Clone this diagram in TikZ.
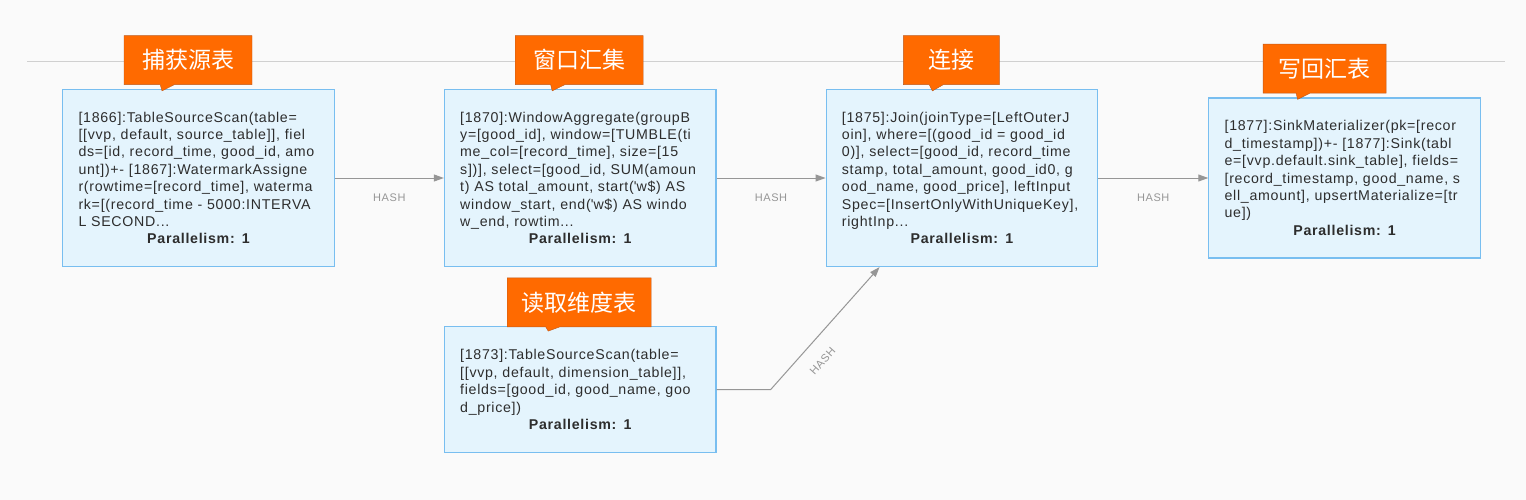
\documentclass[tikz,border=0pt]{standalone}
\usepackage{fontspec}
\setmainfont{Liberation Sans}[LetterSpace=5]
\newfontfamily\cjk{Noto Sans CJK SC}
\usetikzlibrary{arrows.meta, positioning, shapes.callouts}
\definecolor{pagebg}{RGB}{250,250,250}
\definecolor{boxfill}{RGB}{228,244,253}
\definecolor{boxline}{RGB}{120,190,240}
\definecolor{tabfill}{RGB}{255,106,0}
\definecolor{tabline}{RGB}{190,90,30}
\definecolor{flowgray}{RGB}{150,150,150}
\definecolor{rulegray}{RGB}{208,208,208}
\definecolor{textgray}{RGB}{45,45,45}
\tikzset{
  opbox/.style={
    rectangle,
    draw=boxline,
    fill=boxfill,
    line width=1.2pt,
    text=textgray,
    align=left,
    text width=240pt,
    inner xsep=15.75pt,
    minimum width=271.5pt,
    minimum height=177pt,
    font=\fontsize{14.2}{17.4}\selectfont
  },
  tabcallout/.style={
    rectangle callout,
    fill=tabfill,
    draw=tabline,
    text=white,
    inner sep=0pt,
    minimum height=49pt,
    callout pointer width=14pt,
    font=\cjk\fontsize{23}{23}\selectfont
  },
  flow/.style={
    line width=1pt,
    draw=flowgray,
    ->,
    >={Triangle[length=10pt,width=7pt]}
  },
  hashlabel/.style={
    text=flowgray,
    font=\fontsize{11}{11}\selectfont
  }
}
\newcommand{\para}{\par{\centering\bfseries Parallelism: 1\par}}

\begin{document}
\begin{tikzpicture}[x=1pt, y=-1pt, node distance=109pt]
  % Page and rule
  \fill[pagebg] (0,0) rectangle (1526,500);
  \draw[rulegray, line width=1pt] (27,62) -- (1505,62);

  % Operators
  \node[opbox] (scan) at (198.5,178) {[1866]:TableSourceScan(table=\\{}[[vvp, default, source\_table]], fiel\\ds=[id, record\_time, good\_id, amo\\unt])+- [1867]:WatermarkAssigne\\r(rowtime=[record\_time], waterma\\rk=[(record\_time - 5000:INTERVA\\L SECOND...\para};
  \node[opbox, right=of scan] (window) {[1870]:WindowAggregate(groupB\\y=[good\_id], window=[TUMBLE(ti\\me\_col=[record\_time], size=[15\\s])], select=[good\_id, SUM(amoun\\t) AS total\_amount, start(\textquotesingle w\$) AS\\window\_start, end(\textquotesingle w\$) AS windo\\w\_end, rowtim...\para};
  \node[opbox, right=of window] (join) {[1875]:Join(joinType=[LeftOuterJ\\oin], where=[(good\_id = good\_id\\0)], select=[good\_id, record\_time\\stamp, total\_amount, good\_id0, g\\ood\_name, good\_price], leftInput\\Spec=[InsertOnlyWithUniqueKey],\\rightInp...\para};
  \node[opbox, right=110pt of join, minimum height=160pt] (sink) {[1877]:SinkMaterializer(pk=[recor\\d\_timestamp])+- [1877]:Sink(tabl\\e=[vvp.default.sink\_table], fields=\\{}[record\_timestamp, good\_name, s\\ell\_amount], upsertMaterialize=[tr\\ue])\para};
  \node[opbox, below=59pt of window, minimum height=126pt] (dim) {[1873]:TableSourceScan(table=\\{}[[vvp, default, dimension\_table]],\\fields=[good\_id, good\_name, goo\\d\_price])\para};

  % Tabs
  \node[tabcallout, above=4pt of scan, xshift=-10.5pt, minimum width=128pt, callout absolute pointer={([xshift=-36.5pt, yshift=-2pt]scan.north)}] (scantab) {捕获源表};
  \node[tabcallout, above=4pt of window, xshift=-1pt, minimum width=128pt, callout absolute pointer={([xshift=-28pt, yshift=-2pt]window.north)}] (windowtab) {窗口汇集};
  \node[tabcallout, above=4pt of join, xshift=-10.5pt, minimum width=96pt, callout absolute pointer={([xshift=-29.5pt, yshift=-2pt]join.north)}] (jointab) {连接};
  \node[tabcallout, above=4pt of sink, xshift=-20pt, minimum width=123pt, callout absolute pointer={([xshift=-47pt, yshift=-2pt]sink.north)}] (sinktab) {写回汇表};
  \node[tabcallout, above=-1pt of dim, xshift=-1pt, minimum width=144pt, callout absolute pointer={([xshift=-32pt, yshift=-5pt]dim.north)}] (dimtab) {读取维度表};

  % Edges
  \draw[flow] (scan) -- (window) node[hashlabel, midway, yshift=-20pt] {HASH};
  \draw[flow] (window) -- (join) node[hashlabel, midway, yshift=-20pt] {HASH};
  \draw[flow] (join) -- (sink) node[hashlabel, midway, yshift=-20pt] {HASH};
  \draw[flow] (dim.east) -- ([xshift=54pt]dim.east) -- ([xshift=54pt]join.south west) node[hashlabel, pos=0.34, sloped, yshift=-20pt] {HASH};
\end{tikzpicture}
\end{document}
